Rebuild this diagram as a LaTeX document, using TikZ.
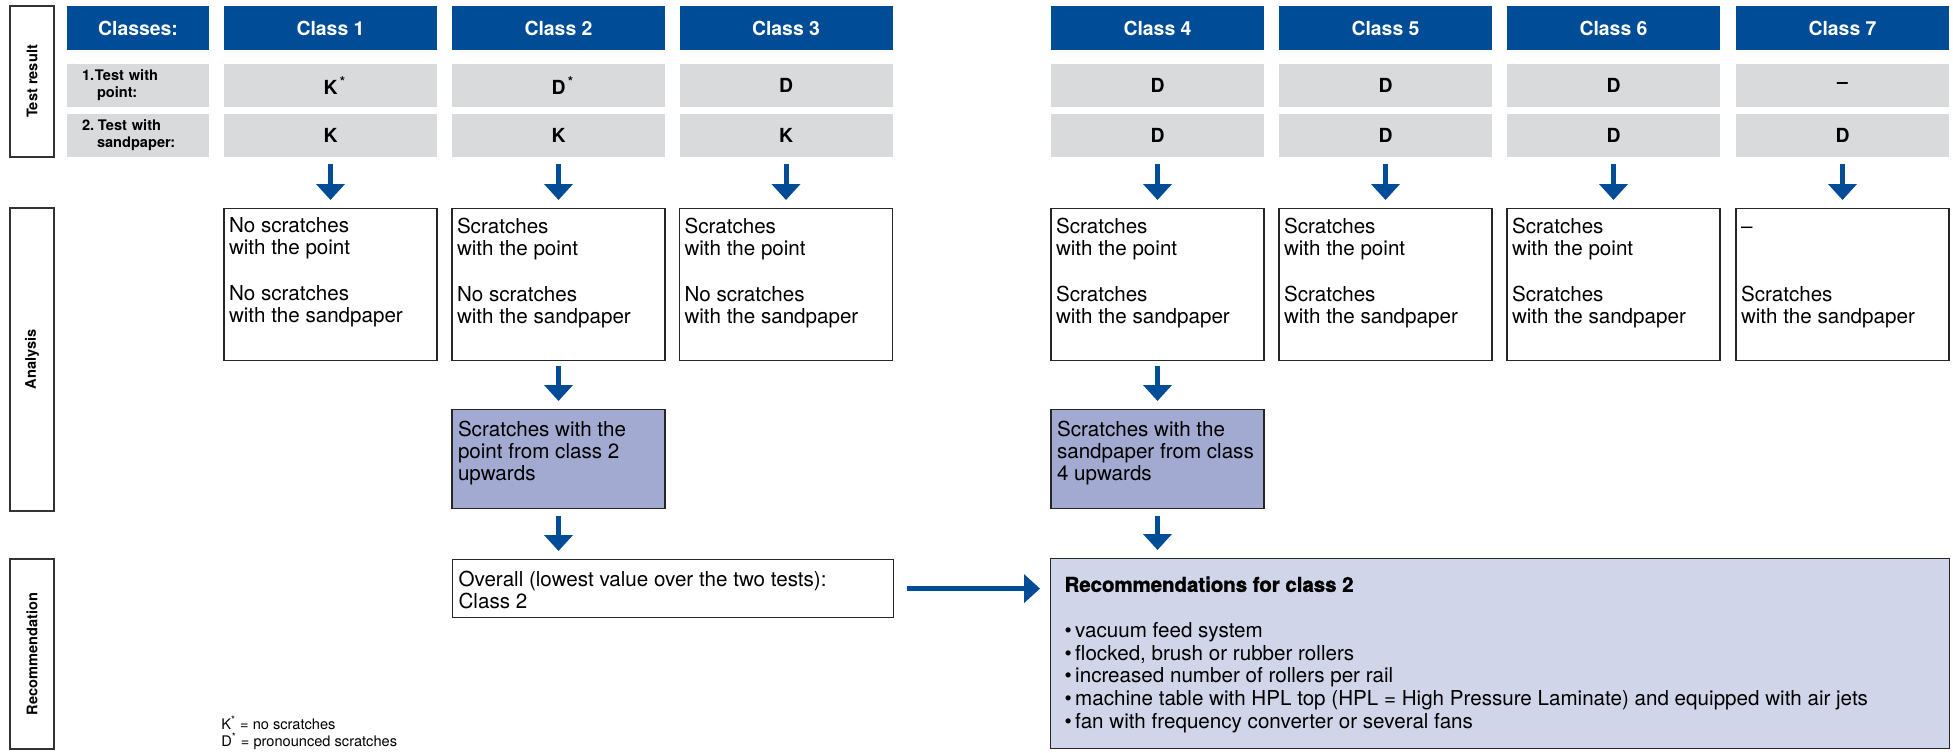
\documentclass[tikz,border=0pt]{standalone}
\usepackage{fontspec}
\setmainfont{TeX Gyre Heros}
\newfontfamily\blackfont[BoldFeatures={FakeBold=1.5}]{TeX Gyre Heros}
\usepackage{tikz}
\usetikzlibrary{arrows.meta}

\definecolor{hblue}{HTML}{004C97}
\definecolor{cellgray}{HTML}{D9DADC}
\definecolor{lilac}{HTML}{A2AAD2}
\definecolor{pale}{HTML}{D1D5E9}

% text block pinned to the top of a fixed-height box
\newcommand{\boxtext}[3]{\parbox[c][#1][t]{#2}{\fontsize{10.3}{11}\selectfont #3}}

\begin{document}
\begin{tikzpicture}[x=0.5pt,y=-0.5pt,
  head node/.style={fill=hblue,text=white,font=\fontsize{9.7}{11}\selectfont\bfseries,
    minimum width=106.5pt,minimum height=22pt,inner sep=0pt},
  cell node/.style={fill=cellgray,font=\fontsize{9.7}{11}\selectfont\bfseries,
    minimum width=106.5pt,minimum height=21.5pt,inner sep=0pt},
  side node/.style={draw=black!80,line width=0.6pt,rotate=90,minimum height=22pt,
    inner sep=0pt,font=\fontsize{7.3}{8}\selectfont\bfseries},
  ana node/.style={draw=black!85,line width=0.6pt,anchor=north,inner xsep=2.5pt,inner ysep=4.5pt},
  hit node/.style={ana node,fill=lilac,inner xsep=3pt,inner ysep=5.5pt},
  flow/.style={draw=hblue,line width=2.5pt,-{Triangle[width=14pt,length=8pt]},
    shorten <=3.5pt,shorten >=4pt}]

  \useasboundingbox (0,0) rectangle (1953,752);

  % row titles at the left
  \node[side node,minimum width=75.5pt] (tres) at (32,81.5) {Test result};
  \node[side node,minimum width=151.5pt] (anal) at (32,359.5) {Analysis};
  \node[side node,minimum width=95pt] (reco) at (32,654) {Recommendation};

  % header
  \node[head node,minimum width=71pt] (cls) at (138,28) {Classes:};
  \node[head node] (h1) at (330.5,28) {Class 1};
  \node[head node] (h2) at (558.5,28) {Class 2};
  \node[head node] (h3) at (786,28) {Class 3};
  \node[head node] (h4) at (1157.5,28) {Class 4};
  \node[head node] (h5) at (1385.5,28) {Class 5};
  \node[head node] (h6) at (1613.5,28) {Class 6};
  \node[head node] (h7) at (1842.5,28) {Class 7};

  % test results
  \node[cell node,minimum width=71pt,text width=56pt,inner xsep=7.5pt,align=left,
    font=\fontsize{7.3}{8.5}\selectfont\bfseries] (t1) at (138,85.5)
    {\makebox[6.5pt][l]{1.}Test with\\\hspace*{7.5pt}point:};
  \node[cell node,minimum width=71pt,text width=56pt,inner xsep=7.5pt,align=left,
    font=\fontsize{7.3}{8.5}\selectfont\bfseries] (t2) at (138,135.5)
    {\makebox[8pt][l]{2.}Test with\\\hspace*{7.5pt}sandpaper:};

  \node[cell node] (r1c1) at (330.5,85.5) {K\rlap{\textsuperscript{\,*}}};
  \node[cell node] (r1c2) at (558.5,85.5) {D\rlap{\textsuperscript{\,*}}};
  \node[cell node] (r1c3) at (786,85.5) {D};
  \node[cell node] (r1c4) at (1157.5,85.5) {D};
  \node[cell node] (r1c5) at (1385.5,85.5) {D};
  \node[cell node] (r1c6) at (1613.5,85.5) {D};
  \node[cell node] (r1c7) at (1842.5,85.5) {--};

  \node[cell node] (r2c1) at (330.5,135.5) {K};
  \node[cell node] (r2c2) at (558.5,135.5) {K};
  \node[cell node] (r2c3) at (786,135.5) {K};
  \node[cell node] (r2c4) at (1157.5,135.5) {D};
  \node[cell node] (r2c5) at (1385.5,135.5) {D};
  \node[cell node] (r2c6) at (1613.5,135.5) {D};
  \node[cell node] (r2c7) at (1842.5,135.5) {D};

  % analysis
  \node[ana node] (a1) at (330.5,208) {\boxtext{67pt}{101.5pt}{No scratches\\with the point\\[12pt]No scratches\\with the sandpaper}};
  \node[ana node] (a2) at (558.5,208) {\boxtext{67pt}{101.5pt}{Scratches\\with the point\\[12pt]No scratches\\with the sandpaper}};
  \node[ana node] (a3) at (786,208) {\boxtext{67pt}{101.5pt}{Scratches\\with the point\\[12pt]No scratches\\with the sandpaper}};
  \node[ana node] (a4) at (1157.5,208) {\boxtext{67pt}{101.5pt}{Scratches\\with the point\\[12pt]Scratches\\with the sandpaper}};
  \node[ana node] (a5) at (1385.5,208) {\boxtext{67pt}{101.5pt}{Scratches\\with the point\\[12pt]Scratches\\with the sandpaper}};
  \node[ana node] (a6) at (1613.5,208) {\boxtext{67pt}{101.5pt}{Scratches\\with the point\\[12pt]Scratches\\with the sandpaper}};
  \node[ana node] (a7) at (1842.5,208) {\boxtext{67pt}{101.5pt}{\vphantom{S}--\\\mbox{}\\[12pt]Scratches\\with the sandpaper}};

  \node[hit node] (b2) at (558.5,409) {\boxtext{38.5pt}{100.5pt}{Scratches with the\\point from class 2\\upwards}};
  \node[hit node] (b4) at (1157.5,409) {\boxtext{38.5pt}{100.5pt}{Scratches with the\\sandpaper from class\\4 upwards}};

  % recommendation
  \node[ana node,anchor=north west,inner xsep=3pt,inner ysep=5.5pt] (all) at (452,559)
    {\boxtext{18pt}{214.5pt}{Overall (lowest value over the two tests):\\Class 2}};
  \node[ana node,anchor=north west,fill=pale,inner xsep=7pt,inner ysep=9pt] (rec) at (1050,558)
    {\parbox[c][77pt][t]{435.5pt}{\fontsize{10.3}{11.35}\selectfont
      {\blackfont\bfseries\fontsize{10.2}{11}\selectfont Recommendations for class 2}\\[11.5pt]
      \textbullet\,vacuum feed system\\
      \textbullet\,flocked, brush or rubber rollers\\
      \textbullet\,increased number of rollers per rail\\
      \textbullet\,machine table with HPL top (HPL = High Pressure Laminate) and equipped with air jets\\
      \textbullet\,fan with frequency converter or several fans}};

  \node[anchor=north west,inner sep=0pt,align=left,font=\fontsize{7.3}{8.5}\selectfont] (note) at (221,716)
    {K\textsuperscript{*} = no scratches\\D\textsuperscript{*} = pronounced scratches};

  % arrows
  \path (r2c1) edge[flow] (a1)
        (r2c2) edge[flow] (a2)
        (r2c3) edge[flow] (a3)
        (r2c4) edge[flow] (a4)
        (r2c5) edge[flow] (a5)
        (r2c6) edge[flow] (a6)
        (r2c7) edge[flow] (a7);
  \path (a2) edge[flow,shorten <=2.5pt] (b2)
        (a4) edge[flow,shorten <=2.5pt] (b4);
  \draw[flow] (b2) -- (b2 |- all.north);
  \draw[flow] (b4) -- (b4 |- rec.north);
  \draw[flow,shorten <=6.5pt,shorten >=5pt] (all) -- (all -| rec.west);
\end{tikzpicture}
\end{document}
